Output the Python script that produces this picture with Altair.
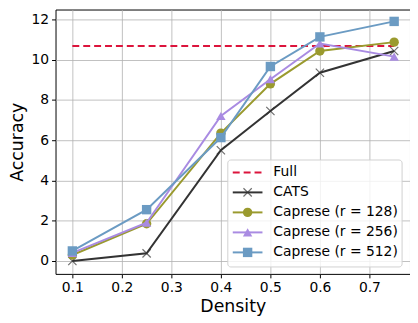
import altair as alt
import pandas as pd

density = [0.1, 0.25, 0.4, 0.5, 0.6, 0.75]
full_acc = 10.68
cats = [0.0, 0.38, 5.5, 7.45, 9.35, 10.43]
cap128 = [0.3, 1.85, 6.35, 8.8, 10.43, 10.87]
cap256 = [0.4, 1.9, 7.2, 9.03, 10.8, 10.15]
cap512 = [0.5, 2.55, 6.13, 9.66, 11.13, 11.9]

series_names = ["CATS", "Caprese (r = 128)", "Caprese (r = 256)", "Caprese (r = 512)"]
series_vals = [cats, cap128, cap256, cap512]
series_colors = ["#333333", "#9a9a2e", "#a98be2", "#6b9bc3"]
series_shapes = ["cross", "circle", "triangle-up", "square"]
legend_labels = ["Full"] + series_names
full_color = "#dc143c"

W, H = 358, 267
xdom = [0.066, 0.782]
ydom = [-0.64, 12.49]

FONT = "DejaVu Sans"
CROSS = "M-1,-1L1,1M-1,1L1,-1"

xs = alt.Scale(domain=xdom, nice=False, zero=False)
ys = alt.Scale(domain=ydom, nice=False, zero=False)

rows = []
for name, vals in zip(series_names, series_vals):
    for d, v in zip(density, vals):
        rows.append({"series": name, "density": d, "acc": v})
df = pd.DataFrame(rows)

X = alt.X("density:Q", scale=xs, title="Density",
          axis=alt.Axis(values=[0.1, 0.2, 0.3, 0.4, 0.5, 0.6, 0.7], format=".1f"))
Y = alt.Y("acc:Q", scale=ys, title="Accuracy",
          axis=alt.Axis(values=[0, 2, 4, 6, 8, 10, 12]))

layers = []
full_df = pd.DataFrame({"density": [density[0], density[-1]], "acc": [full_acc, full_acc]})
layers.append(alt.Chart(full_df).mark_line(color=full_color, strokeDash=[7, 4], strokeWidth=2).encode(x=X, y=Y))

for name, col, shp in zip(series_names, series_colors, series_shapes):
    sub = df[df.series == name]
    base = alt.Chart(sub)
    layers.append(base.mark_line(color=col, strokeWidth=2).encode(x=X, y=Y))
    if shp == "cross":
        layers.append(base.mark_point(color=col, size=70, strokeWidth=1.2, filled=False)
                      .encode(x=X, y=Y, shape=alt.value(CROSS)))
    else:
        layers.append(base.mark_point(shape=shp, color=col, size=90, filled=True, opacity=1)
                      .encode(x=X, y=Y))

# legend box (plot-area pixel coordinates)
lx0, lx1, ly0, ly1 = 174, 350, 152, 260
layers.append(alt.Chart(pd.DataFrame({"a": [0]})).mark_rect(
    fill="white", fillOpacity=0.8, stroke="#d0d0d0", cornerRadius=3, strokeWidth=1
).encode(x=alt.value(lx0), x2=alt.value(lx1), y=alt.value(ly0), y2=alt.value(ly1)))

row_h = 20.2
for i, lab in enumerate(legend_labels):
    yy = ly0 + 12.5 + i * row_h
    ldf = pd.DataFrame({"label": [lab]})
    if i == 0:
        layers.append(alt.Chart(ldf).mark_rule(color=full_color, strokeDash=[7, 4], strokeWidth=2)
                      .encode(x=alt.value(lx0 + 5), x2=alt.value(lx0 + 35), y=alt.value(yy)))
    else:
        col = series_colors[i - 1]
        shp = series_shapes[i - 1]
        layers.append(alt.Chart(ldf).mark_rule(color=col, strokeWidth=2)
                      .encode(x=alt.value(lx0 + 5), x2=alt.value(lx0 + 35), y=alt.value(yy)))
        if shp == "cross":
            layers.append(alt.Chart(ldf).mark_point(color=col, size=70, strokeWidth=1.2, filled=False)
                          .encode(x=alt.value(lx0 + 20), y=alt.value(yy), shape=alt.value(CROSS)))
        else:
            layers.append(alt.Chart(ldf).mark_point(shape=shp, color=col, size=90, filled=True, opacity=1)
                          .encode(x=alt.value(lx0 + 20), y=alt.value(yy)))
    layers.append(alt.Chart(ldf).mark_text(align="left", baseline="middle", font=FONT, fontSize=14, color="black")
                  .encode(x=alt.value(lx0 + 46), y=alt.value(yy), text="label:N"))

chart = alt.layer(*layers).properties(
    width=W, height=H, padding={"left": 0, "top": 0, "right": 0, "bottom": 0}
).configure_axis(
    labelFont=FONT, titleFont=FONT, labelFontSize=14, titleFontSize=17.5,
    titleFontWeight="normal", labelColor="black", titleColor="black",
    grid=True, gridColor="#b0b0b0", gridWidth=0.8,
    domain=False, tickColor="black", tickSize=4, labelPadding=3,
).configure_axisX(titlePadding=3).configure_axisY(titlePadding=5).configure_view(
    stroke="black", strokeWidth=1
)

chart.save("out.html", embed_options={"renderer": "svg", "actions": False})
